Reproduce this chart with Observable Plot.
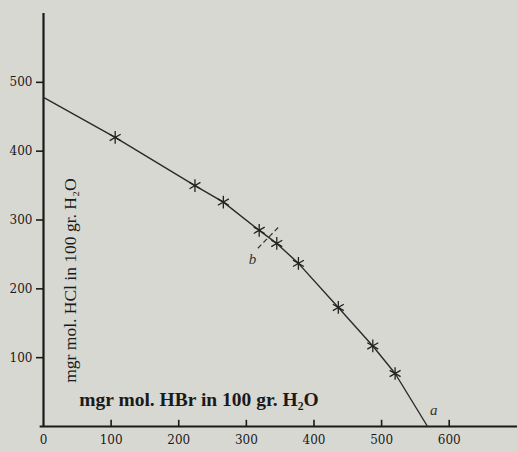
<!DOCTYPE html>
<html>
<head>
<meta charset="utf-8">
<script src="https://cdn.jsdelivr.net/npm/d3@7"></script>
<script src="https://cdn.jsdelivr.net/npm/@observablehq/plot@0.6"></script>
<style>
  html, body { margin: 0; padding: 0; background: #d8d8d3; }
  #chart svg { display: block; }
</style>
</head>
<body>
<div id="chart"></div>
<script>
// HBr (x) vs HCl (y), mgr mol. in 100 gr. H2O
const starHBr = [106, 224, 266, 319, 345, 377, 436, 487, 520];
const starHCl = [420, 350, 326, 285, 266, 237, 173, 117, 77];
const curveHBr = [0, 106, 224, 266, 319, 345, 377, 436, 487, 520, 568];
const curveHCl = [478, 420, 350, 326, 285, 266, 237, 173, 117, 77, 0];
const xTicks = [0, 100, 200, 300, 400, 500, 600];
const yTicks = [100, 200, 300, 400, 500];
const bMark = {x1: 317, y1: 259, x2: 348, y2: 290};
const pointLabels = [
  {x: 309, y: 243, text: "b"},
  {x: 577, y: 24, text: "a"}
];
const xLabel = "mgr mol. HBr in 100 gr. H₂O";
const yLabel = "mgr mol. HCl in 100 gr. H₂O";

const stars = starHBr.map((x, i) => ({x, y: starHCl[i]}));
const curve = curveHBr.map((x, i) => ({x, y: curveHCl[i]}));

const ink = "#1a1a1a";
const plot = Plot.plot({
  width: 517,
  height: 452,
  marginLeft: 43,
  marginRight: 0,
  marginTop: 13,
  marginBottom: 26,
  style: {background: "transparent", fontFamily: "DejaVu Serif", color: ink},
  x: {domain: [0, 701], axis: null},
  y: {domain: [0, 600], axis: null},
  marks: [
    Plot.axisY({ticks: yTicks, tickSize: 7, tickPadding: 4, fontSize: 12, stroke: ink, strokeWidth: 1.6, fill: ink, label: null}),
    Plot.axisX({ticks: xTicks, tickSize: 0, tickPadding: 9, fontSize: 12, fill: ink, label: null}),
    Plot.ruleX(xTicks.filter(d => d > 0), {y1: 0, y2: 9, stroke: ink, strokeWidth: 1.6}),
    Plot.ruleX([0], {y1: 0, y2: 600, stroke: ink, strokeWidth: 2.2}),
    Plot.ruleY([0], {x1: -5, x2: 701, stroke: ink, strokeWidth: 2.2}),
    Plot.line(curve, {x: "x", y: "y", stroke: "#2a2a2a", strokeWidth: 1.4}),
    Plot.dot(stars, {x: "x", y: "y", symbol: "asterisk", r: 6, stroke: "#222", strokeWidth: 1.3}),
    Plot.link([bMark], {x1: "x1", y1: "y1", x2: "x2", y2: "y2", stroke: "#333", strokeWidth: 1.2, strokeDasharray: "5,3"}),
    Plot.text(pointLabels, {x: "x", y: "y", text: "text", fontSize: 15, fontStyle: "italic", fontFamily: "Liberation Serif", fill: "#333"}),
    Plot.text([xLabel], {x: 230, y: 30, text: d => d, fontSize: 19.5, fontFamily: "Liberation Serif", fontWeight: "bold", fill: ink, lineAnchor: "bottom"}),
    Plot.text([yLabel], {x: 40, y: 212, text: d => d, rotate: -90, fontSize: 17.5, fontFamily: "Liberation Serif", fill: ink})
  ]
});
document.getElementById("chart").appendChild(plot);
</script>
</body>
</html>
